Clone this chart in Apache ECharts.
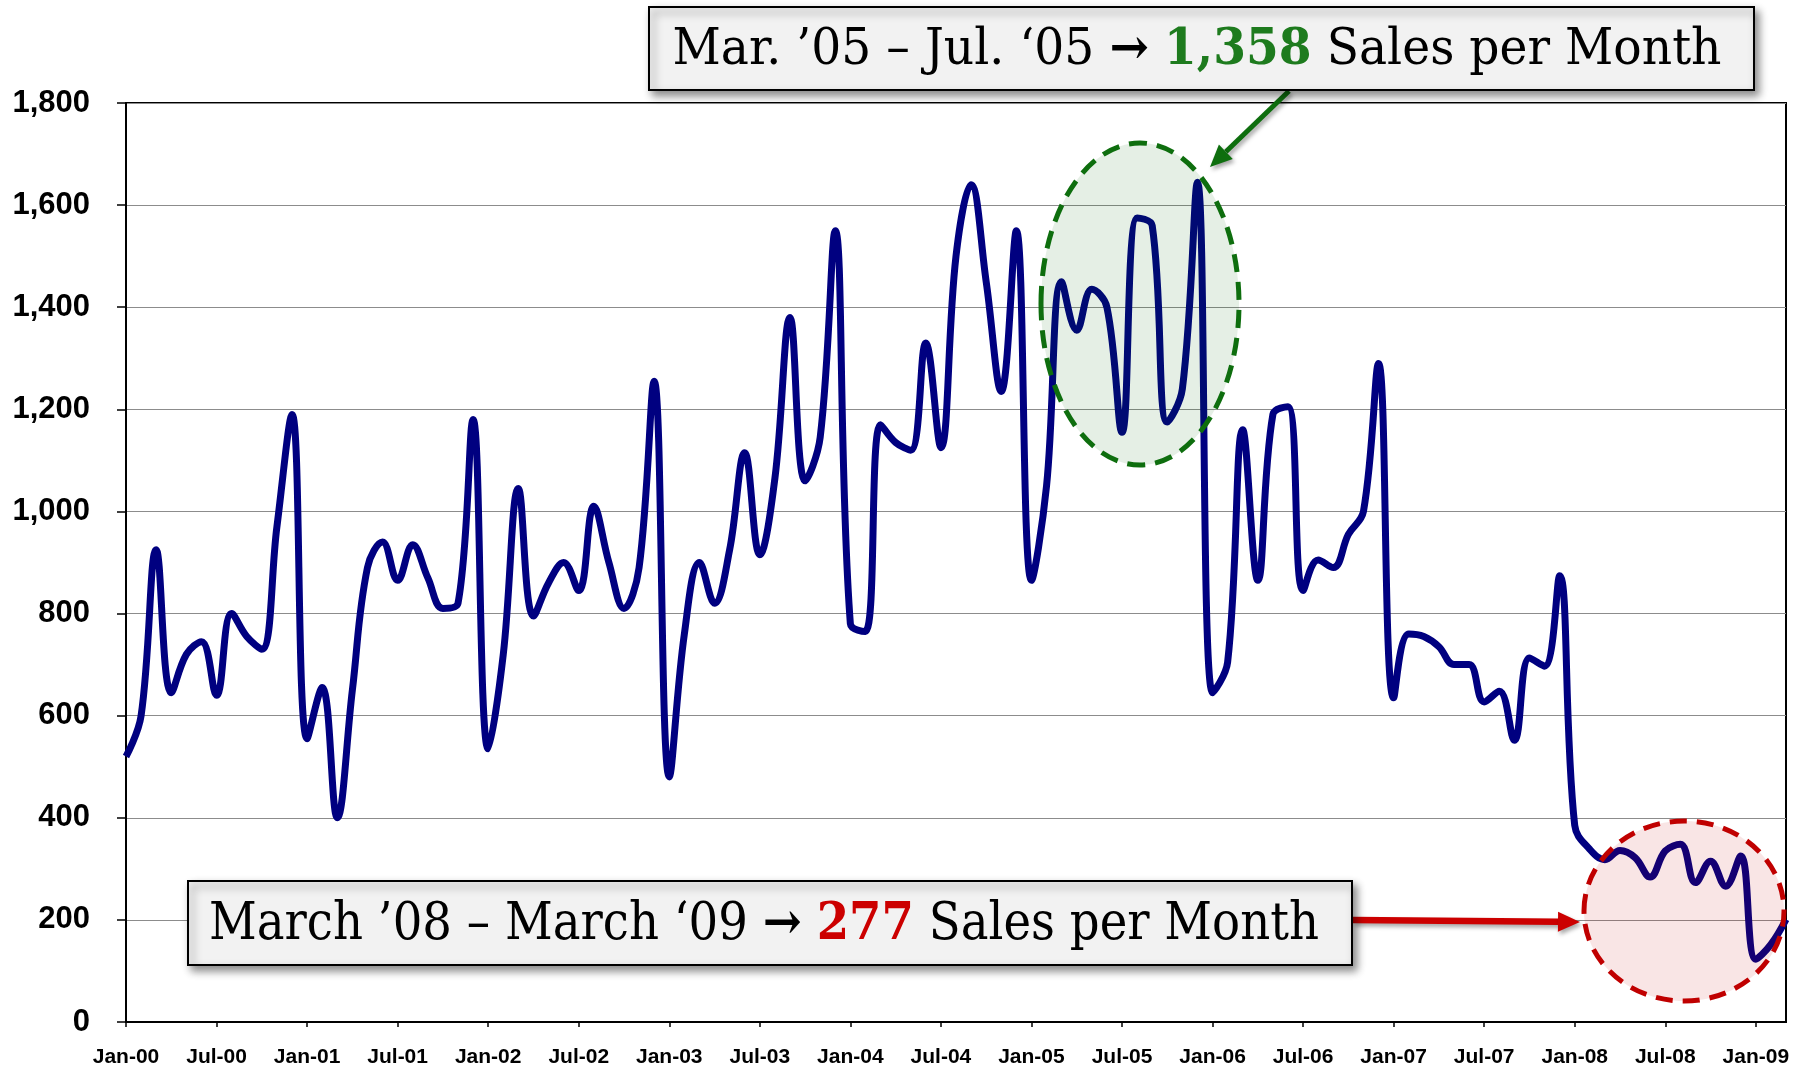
<!DOCTYPE html>
<html>
<head>
<meta charset="utf-8">
<title>Monthly Sales 2000-2009</title>
<script src="https://cdn.jsdelivr.net/npm/echarts@6/dist/echarts.min.js"></script>
<style>
  html, body { margin: 0; padding: 0; background: #fff; }
  #main { width: 1796px; height: 1069px; }
</style>
</head>
<body>
<div id="main"></div>
<script>
// months and years for the category axis
var monthNames = ['Jan', 'Feb', 'Mar', 'Apr', 'May', 'Jun', 'Jul', 'Aug', 'Sep', 'Oct', 'Nov', 'Dec'];
var yearNames = ['00', '01', '02', '03', '04', '05', '06', '07', '08', '09'];

// sales per month, Jan-00 .. Mar-09
var sales2000 = [520, 600, 925, 645, 720, 745, 640, 800, 755, 730, 970, 1190];
var sales2001 = [555, 655, 400, 650, 890, 940, 865, 935, 870, 810, 820, 1180];
var sales2002 = [535, 720, 1045, 795, 860, 900, 845, 1010, 900, 810, 890, 1255];
var sales2003 = [480, 760, 900, 820, 925, 1115, 915, 1065, 1380, 1060, 1145, 1550];
var sales2004 = [780, 765, 1170, 1135, 1120, 1330, 1125, 1500, 1640, 1450, 1235, 1550];
var sales2005 = [865, 1050, 1450, 1355, 1435, 1400, 1155, 1575, 1560, 1175, 1240, 1645];
var sales2006 = [645, 705, 1160, 865, 1190, 1205, 845, 905, 890, 955, 1000, 1290];
var sales2007 = [635, 760, 755, 735, 700, 700, 627, 648, 552, 713, 697, 874];
var sales2008 = [385, 338, 318, 336, 322, 284, 335, 348, 273, 315, 266, 325];
var sales2009 = [123, 152, 201];

var yTicks = { min: 0, max: 1800, interval: 200 };

var sales = [].concat(sales2000, sales2001, sales2002, sales2003, sales2004,
  sales2005, sales2006, sales2007, sales2008, sales2009);

var categories = [];
for (var i = 0; i < sales.length; i++) {
  categories.push(monthNames[i % 12] + '-' + yearNames[Math.floor(i / 12)]);
}

var myChart = echarts.init(document.getElementById('main'));

// measure text so the callout text can be stretched to the box
var ctx = document.createElement('canvas').getContext('2d');
function textWidth(parts, size) {
  var w = 0;
  parts.forEach(function (p) {
    ctx.font = (p[1] ? 'bold ' : '') + size + 'px "DejaVu Serif"';
    w += ctx.measureText(p[0]).width;
  });
  return w;
}

// arrow head polygon
function arrowHead(x1, y1, x2, y2, len, half) {
  var a = Math.atan2(y2 - y1, x2 - x1);
  var bx = x2 - len * Math.cos(a), by = y2 - len * Math.sin(a);
  return {
    base: [bx, by],
    pts: [[x2, y2], [bx + half * Math.sin(a), by - half * Math.cos(a)], [bx - half * Math.sin(a), by + half * Math.cos(a)]]
  };
}

function arrow(x1, y1, x2, y2, color, width, len, half) {
  var h = arrowHead(x1, y1, x2, y2, len, half);
  var shadow = { shadowBlur: 4, shadowOffsetX: 2, shadowOffsetY: 3, shadowColor: 'rgba(0,0,0,0.35)' };
  return [
    {
      type: 'line', z: 30,
      shape: { x1: x1, y1: y1, x2: h.base[0], y2: h.base[1] },
      style: Object.assign({ stroke: color, lineWidth: width }, shadow)
    },
    {
      type: 'polygon', z: 30,
      shape: { points: h.pts },
      style: Object.assign({ fill: color }, shadow)
    }
  ];
}

// callout box with stretched text
function callout(x, y, w, h, parts, rich, size, textBox) {
  var natural = textWidth(parts, size);
  var sx = textBox.width / natural;
  return [
    {
      type: 'rect', z: 40,
      shape: { x: x, y: y, width: w, height: h },
      style: {
        fill: '#f2f2f2', stroke: '#000', lineWidth: 2,
        shadowBlur: 8, shadowOffsetX: 4, shadowOffsetY: 5, shadowColor: 'rgba(0,0,0,0.45)'
      }
    },
    {
      type: 'text', z: 41,
      x: textBox.cx, y: textBox.cy, scaleX: sx,
      style: {
        text: rich,
        align: 'center', verticalAlign: 'middle',
        fontFamily: 'DejaVu Serif', fontSize: size, fill: '#000',
        rich: {
          n: { fontFamily: 'DejaVu Serif', fontSize: size, fill: '#000' },
          b: { fontFamily: 'DejaVu Serif', fontSize: size, fontWeight: 'bold', fill: '#000' },
          g: { fontFamily: 'DejaVu Serif', fontSize: size, fontWeight: 'bold', fill: '#1e7b1e' },
          r: { fontFamily: 'DejaVu Serif', fontSize: size, fontWeight: 'bold', fill: '#cc0000' }
        }
      }
    }
  ];
}

var topParts = [['Mar. ’05 – Jul. ‘05 ', 0], ['→', 1], [' ', 0], ['1,358', 1], [' Sales per Month', 0]];
var topRich = '{n|Mar. ’05 – Jul. ‘05 }{b|→}{n| }{g|1,358}{n| Sales per Month}';
var botParts = [['March ’08 – March ‘09 ', 0], ['→', 1], [' ', 0], ['277', 1], [' Sales per Month', 0]];
var botRich = '{n|March ’08 – March ‘09 }{b|→}{n| }{r|277}{n| Sales per Month}';

var graphics = [
  // highlight ellipses
  {
    type: 'ellipse', z: 10,
    shape: { cx: 1140, cy: 304, rx: 99, ry: 161 },
    style: { fill: 'rgba(0,100,0,0.1)', stroke: '#0e6e0e', lineWidth: 5, lineDash: [18, 10] }
  },
  {
    type: 'ellipse', z: 10,
    shape: { cx: 1684, cy: 911, rx: 100, ry: 90 },
    style: { fill: 'rgba(200,0,0,0.1)', stroke: '#c00000', lineWidth: 5, lineDash: [17, 10] }
  }
]
  .concat(arrow(1289, 91, 1210, 167, '#0e6e0e', 5, 22, 10))
  .concat(arrow(1353, 920, 1580, 922, '#cc0000', 6.5, 22, 10))
  .concat(callout(649, 7, 1105, 83, topParts, topRich, 50, { cx: 1197, cy: 51, width: 1049 }))
  .concat(callout(188, 881, 1164, 84, botParts, botRich, 52, { cx: 764, cy: 925, width: 1110 }));

option = {
  animation: false,
  backgroundColor: '#fff',
  grid: {
    left: 126, right: 10, top: 103, bottom: 47,
    show: true, borderColor: '#000', borderWidth: 2
  },
  xAxis: {
    type: 'category',
    data: categories,
    boundaryGap: false,
    axisLine: { lineStyle: { color: '#000', width: 2 } },
    axisTick: { show: true, interval: 5, length: 5, lineStyle: { color: '#000', width: 1.5 } },
    axisLabel: {
      interval: 5, margin: 25,
      fontFamily: 'Liberation Sans', fontWeight: 'bold', fontSize: 21, color: '#000'
    },
    splitLine: { show: false }
  },
  yAxis: {
    type: 'value',
    min: yTicks.min, max: yTicks.max, interval: yTicks.interval,
    axisLine: { show: true, lineStyle: { color: '#000', width: 2 } },
    axisTick: { show: true, length: 9, lineStyle: { color: '#000', width: 1.5 } },
    axisLabel: {
      margin: 36,
      fontFamily: 'Liberation Sans', fontWeight: 'bold', fontSize: 31, color: '#000',
      formatter: function (v) { return v.toLocaleString('en-US'); }
    },
    splitLine: { lineStyle: { color: '#8c8c8c', width: 1.2 } }
  },
  series: [
    {
      type: 'line',
      data: sales,
      smooth: 0.4,
      symbol: 'none',
      lineStyle: { color: '#000080', width: 7 },
      z: 5
    }
  ],
  graphic: graphics
};

myChart.setOption(option);
</script>
</body>
</html>
